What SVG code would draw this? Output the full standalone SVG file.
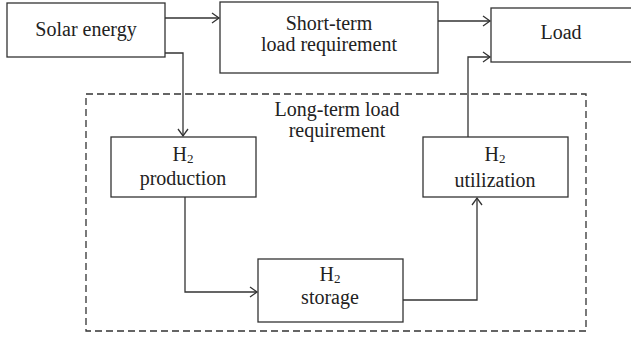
<svg xmlns="http://www.w3.org/2000/svg" width="631" height="337" viewBox="0 0 631 337">
<defs>
<style>
.box{fill:#fff;stroke:#333;stroke-width:1.3}
.dash{fill:none;stroke:#333;stroke-width:1.3;stroke-dasharray:7,4}
.c{fill:none;stroke:#333;stroke-width:1.3}
text{font-family:"Liberation Serif","Times New Roman",serif;font-size:20px;fill:#222;text-anchor:middle}
.sub{font-size:13px}
</style>
<marker id="a" markerWidth="10" markerHeight="12" refX="8" refY="6" orient="auto" markerUnits="userSpaceOnUse">
<path d="M1,1 L8,6 L1,11" fill="none" stroke="#333" stroke-width="1.3"/>
</marker>
</defs>
<rect width="631" height="337" fill="#fff"/>
<g id="longterm">
<rect class="dash" x="86" y="94" width="500" height="237"/>
<text x="337" y="116">Long-term load</text>
<text x="337" y="137">requirement</text>
</g>
<g id="solar">
<rect class="box" x="7" y="3" width="158" height="54"/>
<text x="86" y="36">Solar energy</text>
</g>
<g id="shortterm">
<rect class="box" x="220" y="2" width="218" height="71"/>
<text x="329" y="30">Short-term</text>
<text x="329" y="51">load requirement</text>
</g>
<g id="load">
<rect class="box" x="491" y="8" width="150" height="54"/>
<text x="561" y="39">Load</text>
</g>
<g id="production">
<rect class="box" x="111" y="137" width="145" height="60"/>
<text x="183" y="161">H<tspan class="sub" dy="2">2</tspan></text>
<text x="183" y="185">production</text>
</g>
<g id="storage">
<rect class="box" x="258" y="259" width="145" height="63"/>
<text x="330" y="281">H<tspan class="sub" dy="2">2</tspan></text>
<text x="330" y="304">storage</text>
</g>
<g id="utilization">
<rect class="box" x="423" y="137" width="145" height="60"/>
<text x="495" y="161">H<tspan class="sub" dy="2">2</tspan></text>
<text x="495" y="187">utilization</text>
</g>
<g id="connectors">
<path class="c" d="M165,18 H219" marker-end="url(#a)"/>
<path class="c" d="M438,21 H490" marker-end="url(#a)"/>
<path class="c" d="M165,53 H183 V136" marker-end="url(#a)"/>
<path class="c" d="M185,197 V292 H257" marker-end="url(#a)"/>
<path class="c" d="M403,300 H477 V198" marker-end="url(#a)"/>
<path class="c" d="M468,137 V57 H490" marker-end="url(#a)"/>
</g>
</svg>
